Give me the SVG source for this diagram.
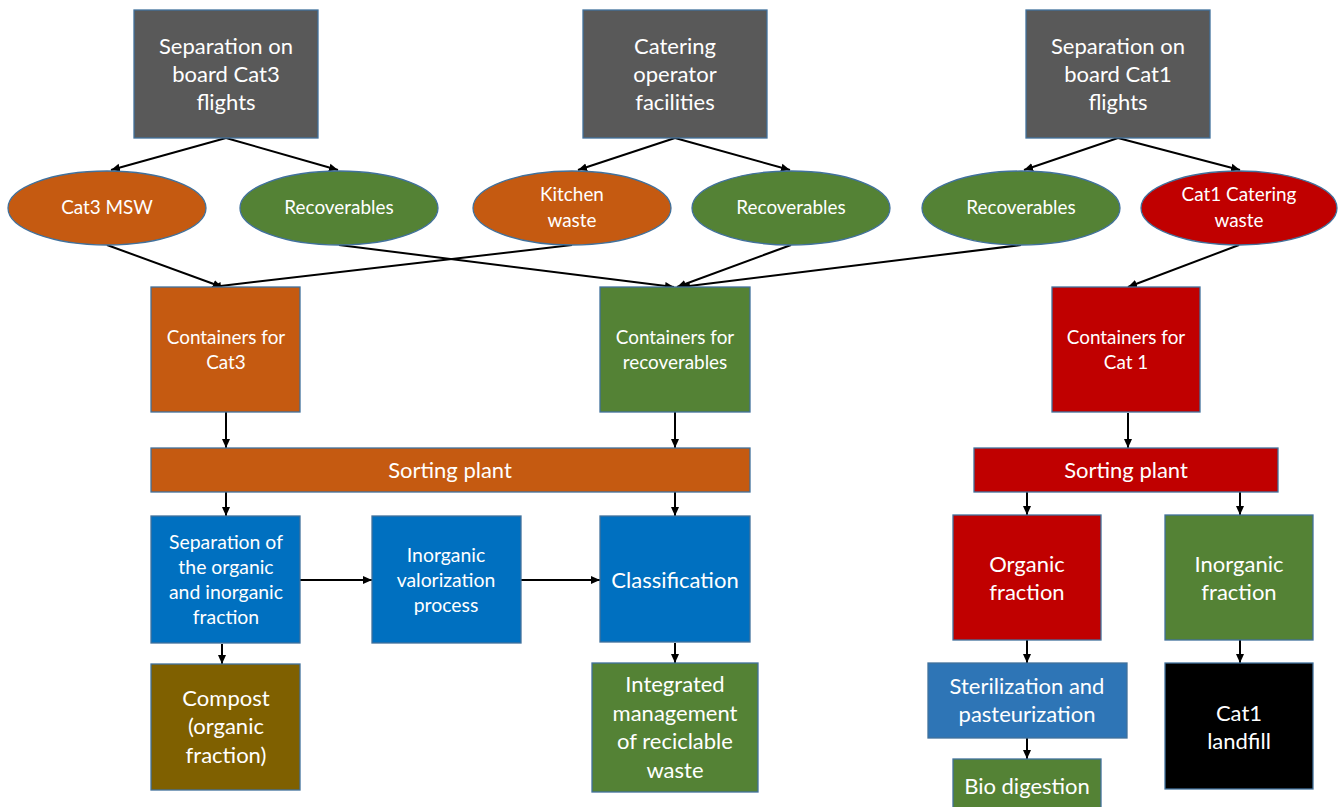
<svg xmlns="http://www.w3.org/2000/svg" width="1338" height="807" viewBox="0 0 1338 807">
<style>
.n{stroke:#41719C;stroke-width:1.3}
.gray{fill:#595959}.org{fill:#C55A11}.grn{fill:#548235}.red{fill:#C00000}.blu{fill:#0070C0}.blu2{fill:#2E75B6}.brn{fill:#7F6000}.blk{fill:#000000}
text{font-family:Lato,"Open Sans","Liberation Sans",sans-serif;fill:#FFFFFF;text-anchor:middle}
.t21{font-size:22px}.t17{font-size:18.9px}.t19{font-size:19.4px}
.c line{stroke:#000;stroke-width:2;marker-end:url(#ah)}
</style>
<defs>
<marker id="ah" markerWidth="10" markerHeight="10" refX="9" refY="5" orient="auto" markerUnits="userSpaceOnUse">
<path d="M0,1 L9,5 L0,9 Z" fill="#000"/>
</marker>
</defs>
<rect width="1338" height="807" fill="#FFFFFF"/>
<g id="connectors" class="c">
<line x1="226" y1="138" x2="111" y2="170"/>
<line x1="226" y1="138" x2="338" y2="170"/>
<line x1="675" y1="138" x2="578" y2="170"/>
<line x1="675" y1="138" x2="790" y2="170"/>
<line x1="1118" y1="138" x2="1024" y2="170"/>
<line x1="1118" y1="138" x2="1240" y2="170"/>
<line x1="107" y1="245" x2="222" y2="287"/>
<line x1="572" y1="245" x2="212" y2="287"/>
<line x1="339" y1="245" x2="674" y2="287"/>
<line x1="791" y1="245" x2="677" y2="287"/>
<line x1="1021" y1="245" x2="681" y2="287"/>
<line x1="1239" y1="245" x2="1128" y2="287"/>
<line x1="226" y1="412" x2="226" y2="448"/>
<line x1="675" y1="412" x2="675" y2="448"/>
<line x1="226" y1="492" x2="226" y2="516"/>
<line x1="675" y1="492" x2="675" y2="516"/>
<line x1="300" y1="580" x2="372" y2="580"/>
<line x1="521" y1="580" x2="600" y2="580"/>
<line x1="222" y1="644" x2="222" y2="664"/>
<line x1="675" y1="643" x2="675" y2="663"/>
<line x1="1128" y1="413" x2="1128" y2="448"/>
<line x1="1027" y1="492" x2="1027" y2="515"/>
<line x1="1240" y1="492" x2="1240" y2="515"/>
<line x1="1027" y1="640" x2="1027" y2="663"/>
<line x1="1027" y1="738" x2="1027" y2="759"/>
<line x1="1240" y1="640" x2="1240" y2="663"/>
</g>
<g id="top1"><rect class="n gray" x="134" y="10" width="184" height="128"/>
<text class="t21" x="226" y="54">Separation on</text><text class="t21" x="226" y="82">board Cat3</text><text class="t21" x="226" y="110">flights</text></g>
<g id="top2"><rect class="n gray" x="583" y="10" width="184" height="128"/>
<text class="t21" x="675" y="54">Catering</text><text class="t21" x="675" y="82">operator</text><text class="t21" x="675" y="110">facilities</text></g>
<g id="top3"><rect class="n gray" x="1026" y="10" width="184" height="128"/>
<text class="t21" x="1118" y="54">Separation on</text><text class="t21" x="1118" y="82">board Cat1</text><text class="t21" x="1118" y="110">flights</text></g>
<g id="e1"><ellipse class="n org" cx="107" cy="208" rx="99" ry="37"/><text class="t17" x="107" y="214">Cat3 MSW</text></g>
<g id="e2"><ellipse class="n grn" cx="339" cy="208" rx="99" ry="37"/><text class="t17" x="339" y="214">Recoverables</text></g>
<g id="e3"><ellipse class="n org" cx="572" cy="208" rx="99" ry="37"/><text class="t17" x="572" y="201">Kitchen</text><text class="t17" x="572" y="227">waste</text></g>
<g id="e4"><ellipse class="n grn" cx="791" cy="208" rx="99" ry="37"/><text class="t17" x="791" y="214">Recoverables</text></g>
<g id="e5"><ellipse class="n grn" cx="1021" cy="208" rx="99" ry="37"/><text class="t17" x="1021" y="214">Recoverables</text></g>
<g id="e6"><ellipse class="n red" cx="1239" cy="208" rx="98" ry="37"/><text class="t17" x="1239" y="201">Cat1 Catering</text><text class="t17" x="1239" y="227">waste</text></g>
<g id="cont3"><rect class="n org" x="151" y="287" width="149" height="125"/><text class="t17" x="226" y="344">Containers for</text><text class="t17" x="226" y="369">Cat3</text></g>
<g id="contrec"><rect class="n grn" x="600" y="287" width="150" height="125"/><text class="t17" x="675" y="344">Containers for</text><text class="t17" x="675" y="369">recoverables</text></g>
<g id="cont1"><rect class="n red" x="1052" y="287" width="148" height="125"/><text class="t17" x="1126" y="344">Containers for</text><text class="t17" x="1126" y="369">Cat 1</text></g>
<g id="sort1"><rect class="n org" x="151" y="448" width="599" height="44"/><text class="t21" x="450" y="478">Sorting plant</text></g>
<g id="sort2"><rect class="n red" x="974" y="448" width="304" height="44"/><text class="t21" x="1126" y="478">Sorting plant</text></g>
<g id="sep"><rect class="n blu" x="151" y="516" width="149" height="127"/><text class="t19" x="226" y="549">Separation of</text><text class="t19" x="226" y="574">the organic</text><text class="t19" x="226" y="599">and inorganic</text><text class="t19" x="226" y="624">fraction</text></g>
<g id="inorgval"><rect class="n blu" x="372" y="516" width="149" height="127"/><text class="t19" x="446" y="562">Inorganic</text><text class="t19" x="446" y="587">valorization</text><text class="t19" x="446" y="612">process</text></g>
<g id="class"><rect class="n blu" x="600" y="516" width="150" height="126"/><text class="t21" x="675" y="588">Classification</text></g>
<g id="compost"><rect class="n brn" x="151" y="664" width="149" height="126"/><text class="t21" x="226" y="706">Compost</text><text class="t21" x="226" y="734">(organic</text><text class="t21" x="226" y="763">fraction)</text></g>
<g id="integ"><rect class="n grn" x="592" y="663" width="166" height="129"/><text class="t21" x="675" y="692">Integrated</text><text class="t21" x="675" y="721">management</text><text class="t21" x="675" y="749">of reciclable</text><text class="t21" x="675" y="778">waste</text></g>
<g id="orgfr"><rect class="n red" x="953" y="515" width="148" height="125"/><text class="t21" x="1027" y="572">Organic</text><text class="t21" x="1027" y="600">fraction</text></g>
<g id="inorgfr"><rect class="n grn" x="1165" y="515" width="148" height="125"/><text class="t21" x="1239" y="572">Inorganic</text><text class="t21" x="1239" y="600">fraction</text></g>
<g id="steril"><rect class="n blu2" x="928" y="663" width="199" height="75"/><text class="t21" x="1027" y="694">Sterilization and</text><text class="t21" x="1027" y="722">pasteurization</text></g>
<g id="bio"><rect class="n grn" x="953" y="759" width="148" height="60"/><text class="t21" x="1027" y="794">Bio digestion</text></g>
<g id="landfill"><rect class="n blk" x="1165" y="663" width="148" height="126"/><text class="t21" x="1239" y="721">Cat1</text><text class="t21" x="1239" y="749">landfill</text></g>
</svg>
